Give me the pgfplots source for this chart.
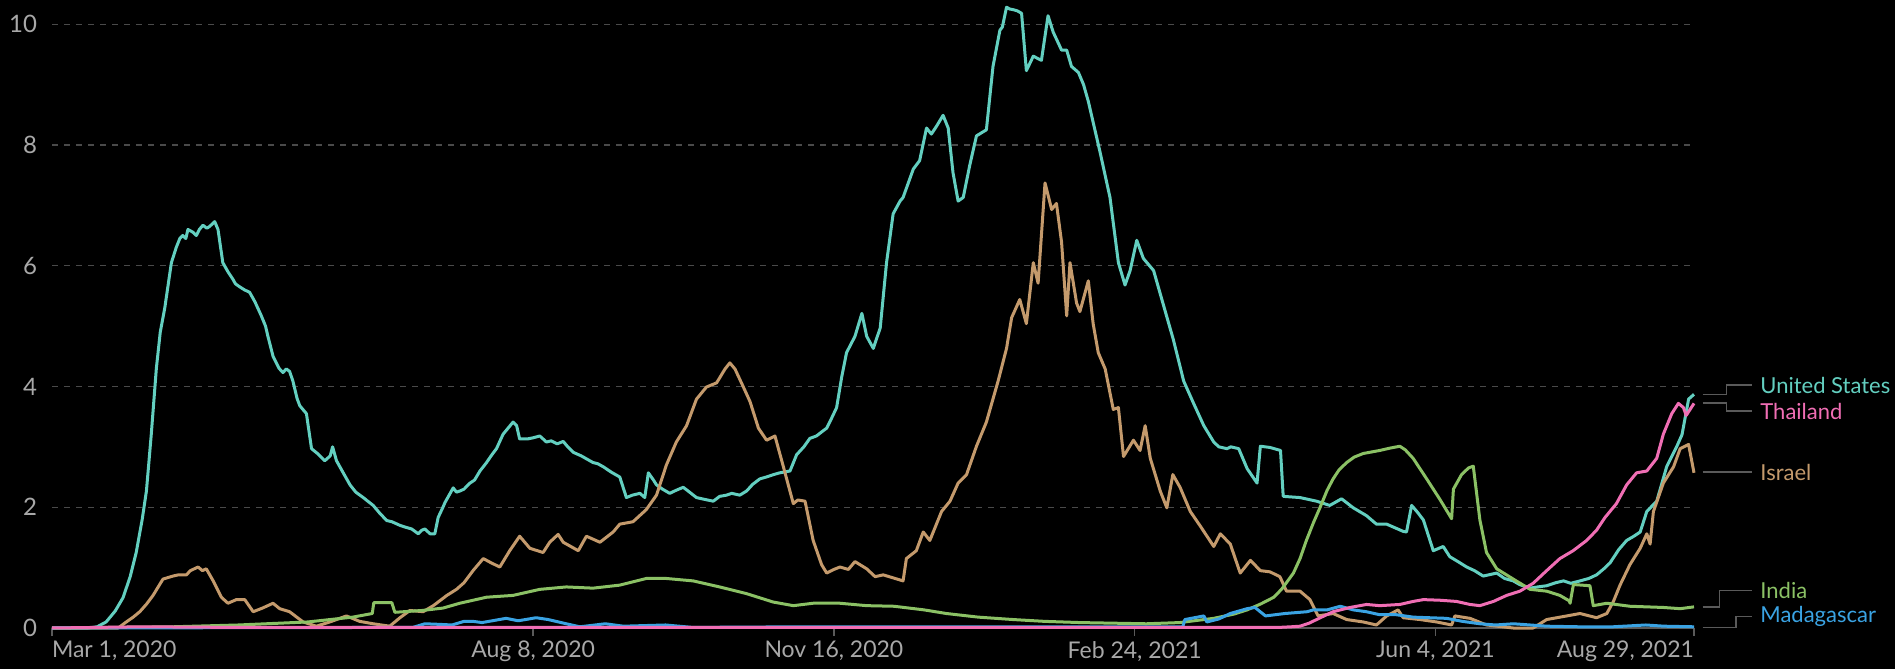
\documentclass[border=0pt]{standalone}
\usepackage{fontspec}
\setmainfont{Lato}
\usepackage{pgfplots}
\pgfplotsset{compat=1.18}
\definecolor{cUS}{HTML}{63CFC0}
\definecolor{cTH}{HTML}{F06EB4}
\definecolor{cIL}{HTML}{C49A6C}
\definecolor{cIN}{HTML}{8BC165}
\definecolor{cMG}{HTML}{3AA3E3}
\definecolor{ctxt}{HTML}{A8A8A8}
\definecolor{cgrid}{HTML}{4A4A4A}
\definecolor{cconn}{HTML}{5A5A5A}
\begin{document}
\begin{tikzpicture}
\path[use as bounding box, fill=black] (-26pt,-20.5pt) rectangle (921.5pt,314pt);
\begin{axis}[
  at={(0,0)}, anchor=south west,
  scale only axis, width=821pt, height=314pt,
  xmin=0, xmax=546, ymin=0, ymax=10.4,
  axis x line*=bottom, axis y line*=left,
  y axis line style={draw=none},
  x axis line style={draw=cconn, line width=0.8pt},
  xtick={0,160,260,360,460,546},
  xticklabels={{\rlap{Mar 1, 2020}},{Aug 8, 2020},{Nov 16, 2020},{Feb 24, 2021},{Jun 4, 2021},{\llap{Aug 29, 2021}}},
  ytick={0,2,4,6,8,10},
  tick align=outside,
  major tick length=4pt,
  xtick style={draw=cconn, line width=0.8pt},
  ytick style={draw=none},
  ymajorgrids,
  grid style={draw=cgrid, line width=0.6pt, dash pattern=on 3pt off 3pt},
  /pgf/number format/assume math mode=true,
  tick label style={text=ctxt, font=\fontsize{11.5pt}{13pt}\selectfont},
  yticklabel style={font=\fontsize{12pt}{14pt}\selectfont},
  xticklabel style={yshift=1pt},
  clip=false,
  every axis plot/.append style={line width=1.5pt, line join=round, no marks},
]
% United States
\addplot[cUS] coordinates {
(0,0) (12,0) (15,0.02) (18,0.1) (21,0.28) (23.6,0.5) (26,0.85) (28,1.25) (30,1.8) (31.4,2.27) (33,3.2) (34.7,4.3) (36,4.9) (37.5,5.3) (39.7,6.05) (41.3,6.3) (42.5,6.45) (43.5,6.5) (44.5,6.45) (45.2,6.6) (47,6.55) (48,6.5) (49,6.6) (50.2,6.67) (51.5,6.62) (52.4,6.65) (53.5,6.7) (54.1,6.73) (55.2,6.6) (56.8,6.05) (58.5,5.9) (60.1,5.78) (61,5.7) (62.4,5.65) (64,5.6) (65.7,5.56) (67.5,5.4) (69.6,5.17) (71,5.0) (71.8,4.83) (73.5,4.5) (75.5,4.3) (76.8,4.23) (77.9,4.29) (79,4.25) (80.1,4.09) (81.5,3.8) (82.4,3.68) (84.6,3.55) (86.3,2.97) (88.5,2.88) (90.7,2.77) (92.5,2.85) (93.3,3.0) (94.6,2.77) (96.5,2.6) (99.1,2.37) (101,2.25) (103.5,2.16) (105,2.1) (106.8,2.03) (109,1.9) (111.3,1.78) (113,1.76) (115.7,1.7) (117.5,1.67) (119.6,1.64) (121.8,1.56) (123,1.62) (124,1.64) (125.7,1.56) (127.3,1.56) (128.4,1.83) (130,2.0) (130.7,2.08) (133.4,2.32) (134.5,2.25) (135.7,2.27) (137,2.3) (139,2.4) (140.5,2.45) (142.3,2.6) (144.5,2.74) (146,2.85) (147.8,2.97) (150,3.21) (151.5,3.3) (153.3,3.41) (154.5,3.35) (155.5,3.13) (158,3.13) (160,3.15) (162.2,3.18) (164.4,3.08) (166,3.1) (168,3.05) (170,3.09) (171.5,3.0) (173.3,2.91) (176,2.85) (179.9,2.74) (181.5,2.72) (183.3,2.67) (186,2.58) (188.8,2.5) (191,2.16) (193,2.2) (195.5,2.23) (197.1,2.16) (198.3,2.57) (200,2.45) (201,2.37) (203,2.3) (205.4,2.23) (207.5,2.28) (209.9,2.33) (212,2.25) (214.3,2.16) (217,2.13) (219.9,2.1) (222,2.18) (224.3,2.2) (226,2.23) (228.7,2.2) (231,2.27) (233,2.38) (235.4,2.47) (237.5,2.5) (239.9,2.54) (242,2.57) (245.4,2.6) (247.6,2.87) (250,3.0) (252,3.14) (254.2,3.18) (256,3.25) (257.6,3.31) (259,3.45) (260.9,3.65) (262.6,4.16) (264.2,4.56) (267,4.83) (269.3,5.21) (270.9,4.83) (273.1,4.63) (275.4,4.97) (277.5,6.05) (279.7,6.86) (282,7.07) (283,7.13) (286.4,7.6) (288.5,7.74) (290.8,8.28) (292.4,8.18) (294,8.3) (296.3,8.49) (298,8.28) (299.6,7.54) (301.3,7.07) (303,7.13) (305.2,7.67) (307.4,8.15) (310.7,8.25) (312.9,9.3) (315.2,9.9) (316,9.95) (317.4,10.28) (318.5,10.25) (319.6,10.24) (321,10.22) (322.4,10.18) (324,9.23) (326.3,9.47) (329,9.4) (331.2,10.14) (332.9,9.87) (335.7,9.57) (337.4,9.57) (339,9.3) (341.3,9.2) (343,9.0) (344.6,8.72) (348.5,7.88) (351.8,7.13) (354.6,6.05) (356.8,5.68) (358.5,5.92) (360.7,6.42) (362.9,6.12) (366.3,5.92) (370.2,5.24) (372.9,4.77) (376.3,4.09) (379.6,3.72) (383,3.35) (386.3,3.08) (388,3.0) (390.7,2.97) (392,3.0) (394.6,2.97) (397.4,2.64) (400.7,2.4) (401.8,3.01) (405,2.99) (408.5,2.94) (409.4,2.18) (415,2.16) (420.5,2.1) (424.9,2.03) (428.8,2.14) (432.7,1.99) (437.1,1.86) (440.4,1.72) (443.8,1.72) (449.3,1.6) (450.4,1.59) (452.1,2.03) (454,1.92) (456,1.79) (459.3,1.28) (462.6,1.35) (464.8,1.18) (467.5,1.1) (470.4,1.01) (473,0.95) (475.9,0.86) (480.4,0.91) (483,0.82) (485.9,0.78) (488,0.72) (491.5,0.66) (494,0.68) (497,0.7) (500,0.75) (502.6,0.78) (505,0.74) (508.1,0.78) (511,0.82) (513.6,0.88) (516,0.98) (518.1,1.08) (521,1.3) (523.6,1.45) (526,1.52) (528.1,1.59) (530.3,1.93) (533.6,2.1) (536.9,2.67) (540.3,3.01) (542,3.2) (544.2,3.79) (546,3.87)
};
% Israel
\addplot[cIL] coordinates {
(0,0) (22,0) (24.7,0.1) (27,0.18) (29.2,0.27) (31.5,0.4) (33.6,0.54) (36.9,0.81) (40.2,0.86) (42,0.88) (44.7,0.88) (46,0.95) (48.6,1.01) (50,0.95) (51.3,0.98) (53.6,0.78) (56.3,0.51) (58.5,0.41) (61.3,0.47) (64.1,0.47) (66.9,0.27) (70,0.33) (73.5,0.41) (75.7,0.32) (79,0.27) (83.5,0.1) (87.9,0.03) (92.4,0.1) (97.9,0.2) (102.3,0.11) (106.8,0.07) (112.3,0.03) (115.7,0.17) (119,0.29) (123.4,0.27) (126.8,0.37) (131.3,0.54) (134.5,0.64) (137,0.75) (140,0.95) (143.4,1.15) (146,1.08) (148.9,1.01) (152.2,1.28) (155.5,1.52) (158.9,1.32) (163.3,1.25) (165.5,1.42) (168.3,1.55) (170,1.42) (175,1.28) (177.7,1.52) (182.2,1.42) (186.6,1.59) (188.8,1.72) (193.2,1.76) (197.6,1.96) (201,2.2) (204.3,2.7) (207.6,3.08) (211,3.35) (214.3,3.79) (217.6,3.99) (221,4.06) (223.8,4.29) (225.4,4.39) (227.1,4.29) (229.9,3.99) (232.1,3.75) (234.9,3.31) (237.6,3.11) (240.4,3.18) (243.2,2.67) (246.5,2.06) (248,2.12) (250.4,2.1) (253.1,1.45) (255.9,1.05) (257.6,0.91) (260,0.97) (262,1.01) (264.8,0.97) (267,1.1) (270.9,0.98) (273.7,0.85) (276.4,0.88) (279.7,0.83) (283,0.78) (284.1,1.15) (287.4,1.28) (289.7,1.59) (291.9,1.45) (295.8,1.93) (298.6,2.1) (301.3,2.4) (304.1,2.54) (307.4,3.01) (310.7,3.41) (314.6,4.09) (317.4,4.63) (319.1,5.14) (321.8,5.44) (324,5.04) (326.3,6.05) (327.9,5.71) (330.2,7.37) (332.4,6.93) (334,7.03) (335.7,6.39) (337.4,5.17) (338.5,6.05) (340.7,5.38) (341.8,5.24) (344.6,5.75) (346.2,5.04) (347.9,4.56) (350.2,4.29) (352.9,3.62) (354.6,3.65) (356.3,2.84) (359.6,3.11) (361.8,2.94) (363.5,3.35) (365.2,2.81) (368.5,2.27) (370.7,1.99) (372.7,2.54) (375.1,2.33) (378.5,1.93) (381.8,1.69) (386.3,1.35) (388.5,1.56) (391.8,1.39) (395.1,0.91) (398.5,1.12) (401.8,0.95) (405,0.93) (408.3,0.85) (410.5,0.61) (415,0.61) (418.3,0.47) (421,0.2) (426,0.24) (430.5,0.14) (436,0.1) (440.4,0.05) (443.8,0.2) (447.6,0.3) (449.3,0.17) (454.9,0.14) (460.4,0.1) (465.4,0.05) (466.5,0.2) (471.5,0.16) (477,0.05) (485.9,0) (492.5,0) (497,0.14) (503.7,0.2) (508.1,0.24) (513.6,0.17) (517,0.24) (519.2,0.44) (521.4,0.71) (524.7,1.05) (528.1,1.32) (530.3,1.56) (531.4,1.39) (532.5,1.93) (535.8,2.4) (539.2,2.67) (541.4,2.97) (544.2,3.04) (546,2.57)
};
% India
\addplot[cIN] coordinates {
(0,0) (20,0.01) (40,0.02) (62,0.05) (85,0.1) (100,0.18) (106.5,0.24) (107,0.42) (113,0.42) (114,0.26) (123,0.29) (130,0.33) (135.6,0.41) (144.5,0.51) (153.3,0.54) (162.2,0.64) (171,0.68) (179.9,0.66) (188.8,0.71) (197.6,0.82) (204.3,0.82) (213.2,0.78) (222,0.68) (230.9,0.57) (239.8,0.43) (246.5,0.37) (253.1,0.41) (262,0.41) (270.9,0.37) (280,0.36) (290,0.3) (297.4,0.24) (308,0.18) (319.6,0.14) (330,0.11) (341.8,0.09) (363.9,0.07) (375,0.09) (386.3,0.16) (393,0.23) (397.4,0.3) (402,0.4) (406.3,0.51) (409,0.65) (412.8,0.91) (415,1.15) (417.1,1.45) (419.5,1.75) (421.6,1.99) (424,2.28) (426,2.47) (428,2.62) (430.5,2.74) (433,2.83) (436,2.89) (441.5,2.94) (445,2.98) (448.2,3.01) (450,2.95) (452.6,2.81) (457.1,2.47) (461.5,2.13) (465.4,1.81) (466,2.3) (468.7,2.54) (471,2.65) (472.6,2.68) (474.8,1.79) (477,1.25) (480.4,0.98) (485.9,0.81) (491.5,0.64) (497,0.61) (501.4,0.54) (504.5,0.45) (504.8,0.41) (505.9,0.72) (511.4,0.7) (512.5,0.37) (517,0.41) (524.7,0.36) (535.8,0.34) (541.4,0.32) (546,0.35)
};
% Madagascar
\addplot[cMG] coordinates {
(0,0) (120,0.01) (124,0.07) (129,0.06) (133,0.05) (137,0.11) (140,0.11) (143,0.09) (151,0.16) (155,0.12) (161,0.17) (165,0.14) (171,0.07) (175.5,0.02) (184,0.07) (190,0.03) (204,0.05) (213,0.01) (250,0.02) (300,0.02) (370,0.02) (376,0.02) (376.7,0.14) (383,0.2) (384,0.1) (388,0.15) (391.8,0.24) (397.4,0.32) (400,0.34) (403.5,0.2) (410,0.24) (417.4,0.27) (419.4,0.3) (424,0.3) (428.4,0.36) (432.7,0.3) (437,0.27) (441.5,0.22) (447,0.22) (452.6,0.18) (458,0.17) (463.7,0.16) (469,0.11) (474.8,0.07) (480,0.05) (486,0.07) (491.5,0.05) (497,0.03) (508,0.02) (519,0.02) (530,0.05) (536,0.03) (546,0.02)
};
% Thailand
\addplot[cTH] coordinates {
(0,0) (30,0.02) (60,0.01) (408,0.01) (412,0.02) (415,0.03) (418,0.08) (420.5,0.14) (423,0.2) (426,0.27) (431.6,0.34) (437.1,0.39) (441.5,0.37) (448.2,0.39) (452.6,0.44) (456,0.47) (461.5,0.46) (467,0.44) (471.5,0.39) (474.8,0.37) (479.3,0.44) (483.7,0.54) (488.1,0.61) (492.5,0.74) (497,0.95) (501.4,1.15) (505.8,1.28) (510.3,1.45) (513.6,1.62) (516.4,1.83) (520.2,2.06) (523.6,2.37) (526.9,2.57) (530.3,2.6) (533.6,2.81) (535.8,3.21) (538.6,3.55) (540.8,3.72) (542.5,3.65) (543.4,3.52) (546,3.72)
};
% right-hand labels with connectors
\begin{scope}[cconn, line width=0.8pt]
\draw ([xshift=4.3pt]axis cs:546,3.87) -- ([xshift=16.3pt]axis cs:546,3.87) -- ([xshift=16.3pt]axis cs:546,4.02) -- ([xshift=28.9pt]axis cs:546,4.02);
\draw ([xshift=4.3pt]axis cs:546,3.73) -- ([xshift=16.3pt]axis cs:546,3.73) -- ([xshift=16.3pt]axis cs:546,3.59) -- ([xshift=28.9pt]axis cs:546,3.59);
\draw ([xshift=4.3pt]axis cs:546,2.58) -- ([xshift=28.9pt]axis cs:546,2.58);
\draw ([xshift=4.3pt]axis cs:546,0.35) -- ([xshift=12.7pt]axis cs:546,0.35) -- ([xshift=12.7pt]axis cs:546,0.62) -- ([xshift=28.9pt]axis cs:546,0.62);
\draw ([xshift=4.3pt]axis cs:546,0.01) -- ([xshift=21pt]axis cs:546,0.01) -- ([xshift=21pt]axis cs:546,0.19) -- ([xshift=28.9pt]axis cs:546,0.19);
\end{scope}
\begin{scope}[font=\fontsize{11pt}{13pt}\selectfont, anchor=west, inner sep=0pt]
\node[text=cUS] at ([xshift=33pt]axis cs:546,4.02) {United States};
\node[text=cTH] at ([xshift=33pt]axis cs:546,3.59) {Thailand};
\node[text=cIL] at ([xshift=33pt]axis cs:546,2.58) {Israel};
\node[text=cIN] at ([xshift=33pt]axis cs:546,0.62) {India};
\node[text=cMG] at ([xshift=33pt]axis cs:546,0.19) {Madagascar};
\end{scope}
\end{axis}
\end{tikzpicture}
\end{document}
